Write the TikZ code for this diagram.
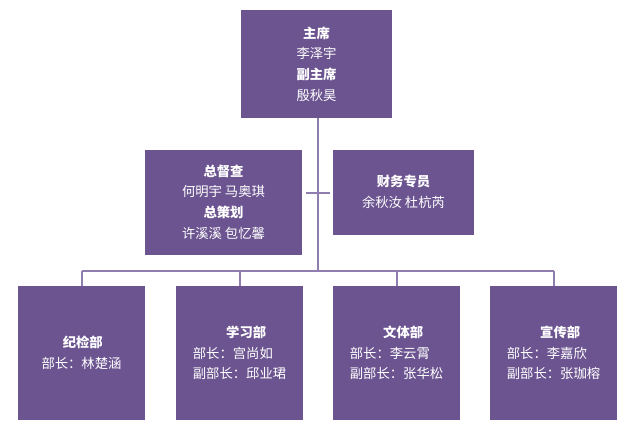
\documentclass[tikz,border=0pt]{standalone}
\usepackage{fontspec}
\setmainfont{Noto Sans CJK SC}
\begin{document}
\begin{tikzpicture}[x=0.75pt,y=-0.75pt,
  box/.style={fill=boxc,draw=none,text=white,align=center,font=\fontsize{10}{15.5}\selectfont},
  ln/.style={draw=linec,line width=1.5pt}]
\definecolor{boxc}{HTML}{6B5490}
\definecolor{linec}{HTML}{8F7EAD}
\useasboundingbox (0,0) rectangle (640,438);
\fill[boxc] (241,10) rectangle (392,118);
\node[box] (top) at (316.5,64) {\textbf{主席}\\李泽宇\\\textbf{副主席}\\殷秋昊};
\fill[boxc] (145,150) rectangle (302,255);
\node[box] (ml) at (223.5,202) {\textbf{总督查}\\何明宇 马奥琪\\\textbf{总策划}\\许溪溪 包忆馨};
\fill[boxc] (333,150) rectangle (474,235);
\node[box] (mr) at (403.5,192) {\textbf{财务专员}\\余秋汝 杜杭芮};
\foreach \n/\a/\b in {b1/18/145,b2/176/303,b3/333/460,b4/490/617}{
  \fill[boxc] (\a,286) rectangle (\b,420);
  \coordinate (\n) at ({(\a+\b)/2},286);
}
\node[box,align=left] (t1) at (81.5,353) {\hspace*{1.6em}\textbf{纪检部}\\部长：林楚涵};
\node[box,align=left] (t2) at (239.5,353) {\hspace*{2.5em}\textbf{学习部}\\部长：宫尚如\\副部长：邱业珺};
\node[box,align=left] (t3) at (396.5,353) {\hspace*{2.5em}\textbf{文体部}\\部长：李云霄\\副部长：张华松};
\node[box,align=left] (t4) at (553.5,353) {\hspace*{2.5em}\textbf{宣传部}\\部长：李嘉欣\\副部长：张珈榕};
\coordinate (tb) at (318,118);
\coordinate (tj) at (318,271);
\coordinate (sj) at (318,193);
\coordinate (sl) at (306,193);
\coordinate (sr) at (330,193);
\coordinate (hl) at (81.5,271);
\coordinate (hr) at (553.5,271);
\draw[ln] (tb) -- (tj);
\draw[ln] (sl) -- (sr);
\draw[ln] (hl) -- (hr);
\foreach \n in {b1,b2,b3,b4}{\draw[ln] (\n |- tj) -- (\n);}
\end{tikzpicture}
\end{document}
